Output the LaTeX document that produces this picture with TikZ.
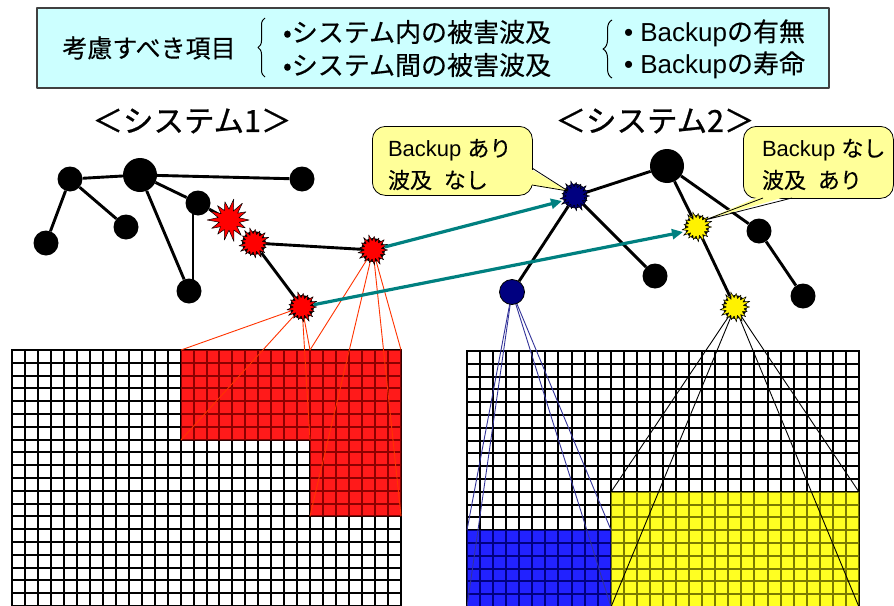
\documentclass[tikz,border=0pt]{standalone}
\usepackage{fontspec}
\setmainfont{Liberation Sans}
\newfontfamily\jp{Noto Sans CJK JP}[FakeBold=0.3]
\newfontfamily\jpb{Noto Sans CJK JP}[FakeBold=0.8]
\usetikzlibrary{arrows.meta,decorations.pathreplacing}
\definecolor{boxfill}{HTML}{CCFFFF}
\definecolor{callfill}{HTML}{FFFF99}
\definecolor{tealc}{HTML}{008080}
\definecolor{redfill}{HTML}{FF1A1A}
\definecolor{redline}{HTML}{8C0000}
\definecolor{projred}{HTML}{FF3300}
\definecolor{bluefill}{HTML}{2222FF}
\definecolor{blueline}{HTML}{000080}
\definecolor{projblue}{HTML}{333399}
\definecolor{yelfill}{HTML}{FFFF22}
\definecolor{yelline}{HTML}{7A7A00}
\definecolor{navyc}{HTML}{000080}
\pgfdeclarelayer{bg}
\pgfsetlayers{bg,main}
% x0, y0, dx, dy, ncols, nrows, style
\newcommand\gridlines[7]{%
  \foreach \i in {0,...,#5} {\pgfmathsetmacro\gx{round(#1+\i*#3)}\draw[#7] (\gx,#2) -- (\gx,{round(#2+#6*#4)});}
  \foreach \j in {0,...,#6} {\pgfmathsetmacro\gy{round(#2+\j*#4)}\draw[#7] (#1,\gy) -- ({round(#1+#5*#3)},\gy);}}
% node, points, outer r, inner r, fill, jitter
\newcommand\burst[6]{%
  \pgfmathtruncatemacro\nb{2*#2-1}%
  \filldraw[fill=#5,draw=black,line width=0.5pt] ([shift={(0:#3)}]#1.center)
    \foreach \k in {1,...,\nb} { -- ([shift={({\k*180/#2}:{mod(\k,2)==0 ? #3+#6*sin(\k*137) : #4+0.3*#6*cos(\k*71)})}]#1.center) } -- cycle;}
\begin{document}
\begin{tikzpicture}[x=1pt,y=-1pt,line join=round,
  bnode/.style={circle,fill=black,inner sep=0,minimum size=25pt},
  bignode/.style={circle,fill=black,inner sep=0,minimum size=34pt},
  ring/.style={circle,fill=black,inner sep=0,minimum size=24pt},
  link/.style={line width=2.9pt},
  proj/.style={line width=0.9pt},
  tarrow/.style={draw=tealc,line width=3.2pt,-{Triangle[length=11pt,width=10pt]}},
  txt/.style={inner sep=0,outer sep=0},
  callbox/.style={draw=black,line width=0.8pt,fill=callfill,rounded corners=13pt,inner sep=0},
  gl/.style={line width=2.4pt,black,line cap=rect},
]
\useasboundingbox (0,0) rectangle (894,605);

% ---------- top box ----------
\node[draw=black!75,line width=1.5pt,fill=boxfill,minimum width=792pt,minimum height=80pt,inner sep=0,anchor=north west] (topbox) at (36,7) {};
\node[txt,font=\jp\fontsize{25}{25}\selectfont] (koryo) at (149,48) {考慮すべき項目};
\coordinate (b1s) at (265,77); \coordinate (b1e) at (265,18);
\draw[line width=1pt,decorate,decoration={brace,amplitude=7pt}] (b1s) -- (b1e);
\node[txt,anchor=west,font=\jp\fontsize{26}{26}\selectfont] (l1) at (283,32) {•システム内の被害波及};
\node[txt,anchor=west,font=\jp\fontsize{26}{26}\selectfont] (l2) at (283,65) {•システム間の被害波及};
\coordinate (b2s) at (612,78); \coordinate (b2e) at (612,20);
\draw[line width=1pt,decorate,decoration={brace,amplitude=9pt}] (b2s) -- (b2e);
\node[txt,anchor=west,font=\fontsize{26}{26}\selectfont] (r1) at (624,33) {• Backup{\jp の有無}};
\node[txt,anchor=west,font=\fontsize{26}{26}\selectfont] (r2) at (624,65) {• Backup{\jp の寿命}};

% ---------- titles ----------
\node[txt,font=\jpb\fontsize{30.5}{30.5}\selectfont] (t1) at (192,121) {＜システム1＞};
\node[txt,font=\jpb\fontsize{30.5}{30.5}\selectfont] (t2) at (655,121) {＜システム2＞};

% ---------- system 1 nodes ----------
\node[bnode] (A) at (70,179) {};
\node[bignode] (B) at (140,175) {};
\node[bnode] (C) at (302,179) {};
\node[bnode] (D) at (198,203) {};
\node[bnode] (E) at (46,243) {};
\node[bnode] (F) at (126,227) {};
\node[bnode] (G) at (189,291) {};
\coordinate (H) at (229,220);
\burst{H}{14}{20}{10.5}{red}{2}
\node[ring] (I) at (254,243) {};
\burst{I}{17}{14.5}{9}{red}{1.5}
\node[ring] (J) at (373,250) {};
\burst{J}{17}{14.5}{9}{red}{1.5}
\node[ring] (K) at (302,307) {};
\burst{K}{17}{14.5}{9}{red}{1.5}

% ---------- system 2 nodes ----------
\node[circle,fill=navyc,draw=black,line width=0.6pt,minimum size=24pt,inner sep=0] (P) at (575,196) {};
\burst{P}{17}{14.5}{9}{navyc}{1.5}
\node[bignode] (Q) at (667,166) {};
\node[ring] (R) at (697,227) {};
\burst{R}{17}{14.5}{9}{yellow}{1.5}
\node[bnode] (S) at (759,231) {};
\node[bnode] (T) at (655,276) {};
\node[circle,fill=navyc,draw=black,line width=0.8pt,minimum size=25pt,inner sep=0] (U) at (512,292) {};
\node[ring] (V) at (735,307) {};
\burst{V}{17}{14.5}{9}{yellow}{1.5}
\node[bnode] (W) at (803,296) {};

% ---------- callouts ----------
\node[callbox,minimum width=160pt,minimum height=69pt,anchor=north west] (c1) at (372,126) {};
\coordinate (c1a) at (532,168); \coordinate (c1b) at (532,185);
\coordinate (c1tip) at ([shift={(-7,-5)}]P.center);
\fill[callfill] ([xshift=-3pt]c1a) -- (c1tip) -- ([xshift=-3pt]c1b) -- cycle;
\draw[line width=0.8pt] (c1a) -- (c1tip) -- (c1b);
\node[txt,anchor=west,font=\fontsize{22}{22}\selectfont] (c1t1) at (388,150) {Backup {\jp あり}};
\node[txt,anchor=west,font=\jp\fontsize{22}{22}\selectfont] (c1t2) at (388,180) {波及\hspace{7pt} なし};

\node[callbox,minimum width=150pt,minimum height=72pt,anchor=north west] (c2) at (743,126) {};
\coordinate (c2a) at (763,198); \coordinate (c2b) at (792,198);
\coordinate (c2tip) at ([shift={(8,-7)}]R.center);
\fill[callfill] ([yshift=3pt]c2a) -- (c2tip) -- ([yshift=3pt]c2b) -- cycle;
\draw[line width=0.8pt] (c2a) -- (c2tip) -- (c2b);
\node[txt,anchor=west,font=\fontsize{22}{22}\selectfont] (c2t1) at (762,150) {Backup {\jp なし}};
\node[txt,anchor=west,font=\jp\fontsize{22}{22}\selectfont] (c2t2) at (762,180) {波及\hspace{7pt} あり};

% ---------- teal arrows ----------
\draw[tarrow] (J) -- ([shift={(-13,5)}]P.center);
\draw[tarrow] (K) -- ([shift={(-14,5)}]R.center);

% ---------- background: grids, projections, links ----------
\begin{pgfonlayer}{bg}
% grid 1
\gridlines{12}{350}{12.967}{12.8}{30}{20}{gl}
\fill[redfill] (181,350) -- (401,350) -- (401,516) -- (310,516) -- (310,440) -- (181,440) -- cycle;
\begin{scope}
\clip (181,350) -- (401,350) -- (401,516) -- (310,516) -- (310,440) -- (181,440) -- cycle;
\gridlines{12}{350}{12.967}{12.8}{30}{20}{gl,draw=redline}
\end{scope}
% grid 2
\gridlines{467}{351}{13.067}{12.8}{30}{20}{gl}
\fill[bluefill] (467,530) rectangle (611,607);
\fill[yelfill] (611,492) rectangle (859,607);
\begin{scope}
\clip (467,530) rectangle (611,607);
\gridlines{467}{351}{13.067}{12.8}{30}{20}{gl,draw=blueline}
\end{scope}
\begin{scope}
\clip (611,492) rectangle (859,607);
\gridlines{467}{351}{13.067}{12.8}{30}{20}{gl,draw=yelline}
\end{scope}
% region corners
\coordinate (k1) at (181,350); \coordinate (k2) at (310,350);
\coordinate (k3) at (181,440); \coordinate (k4) at (310,440);
\coordinate (j1) at (310,350); \coordinate (j2) at (401,350);
\coordinate (j3) at (310,516); \coordinate (j4) at (401,516);
\coordinate (u1) at (467,530); \coordinate (u2) at (611,530);
\coordinate (u3) at (467,607); \coordinate (u4) at (611,607);
\coordinate (v1) at (611,492); \coordinate (v2) at (859,492);
\coordinate (v3) at (611,607); \coordinate (v4) at (859,607);
\foreach \c in {k1,k2,k3,k4} \draw[proj,projred] (K.center) -- (\c);
\foreach \c in {j1,j2,j3,j4} \draw[proj,projred] (J.center) -- (\c);
\foreach \c in {u1,u2,u3,u4} \draw[proj,projblue] (U.center) -- (\c);
\foreach \c in {v1,v2,v3,v4} \draw[proj,black] (V.center) -- (\c);
% links system 1
\draw[link] (A) -- (B);
\draw[link] (A) -- (E);
\draw[link] (A) -- (F);
\draw[link] (B) -- (C);
\draw[link] (B) -- (D);
\draw[link] (B) -- (G);
\draw[link] ([xshift=-5pt]D.center) -- ([xshift=4pt]G.center);
\draw[link] (D) -- (H);
\draw[link] (I) -- (J);
\draw[link] (I) -- (K);
% links system 2
\draw[link] (P) -- (Q);
\draw[link] (P) -- (U);
\draw[link] (P) -- (T);
\draw[link] (Q) -- (R);
\draw[link] (Q) -- (S);
\draw[link] (R) -- (V);
\draw[link] (S) -- (W);
\end{pgfonlayer}
\end{tikzpicture}
\end{document}
